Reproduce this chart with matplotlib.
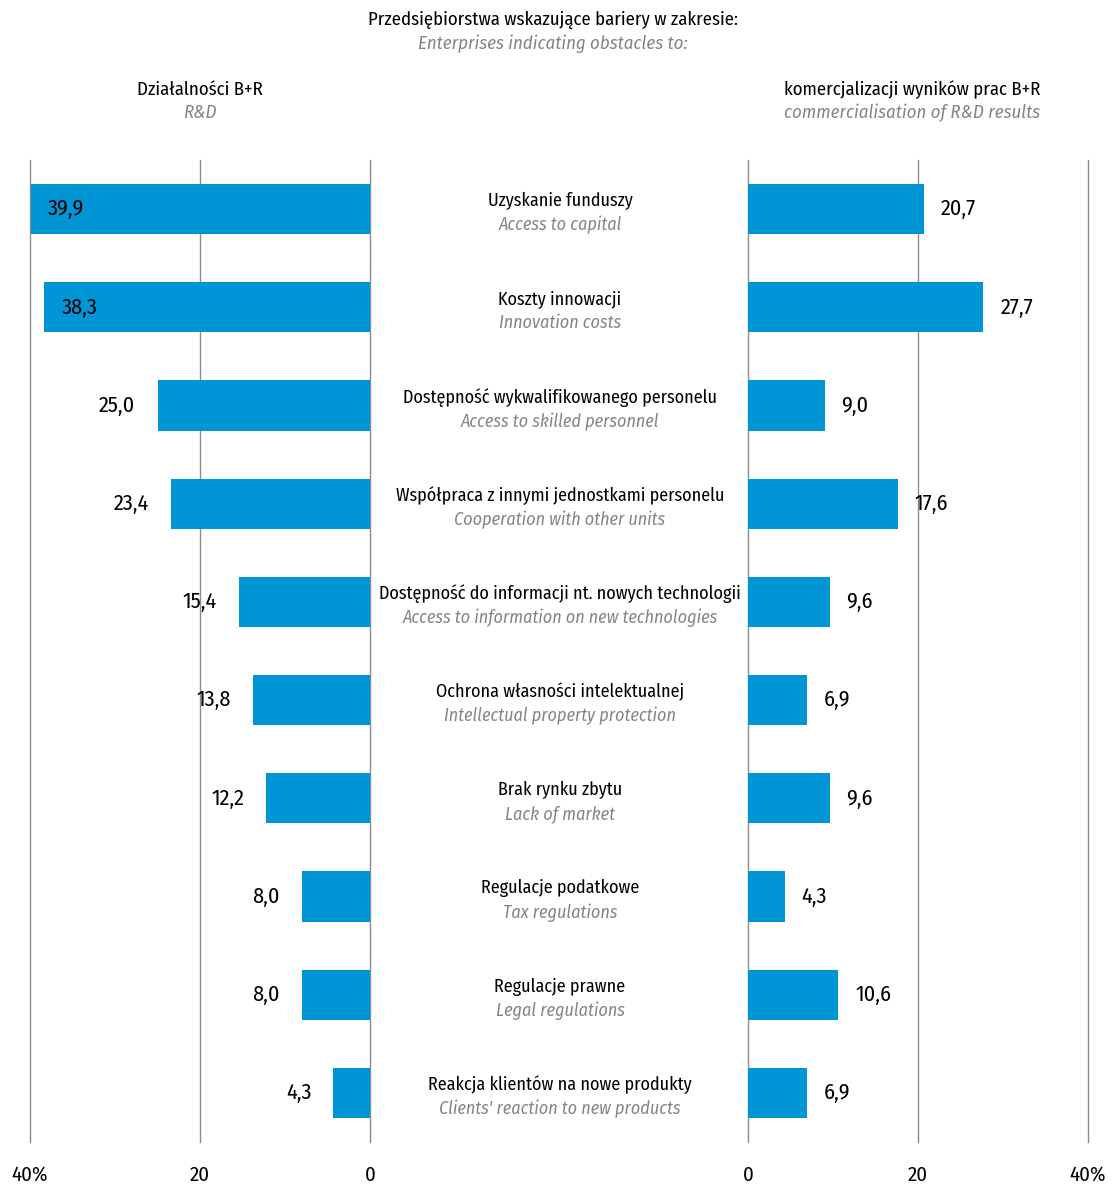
import matplotlib.pyplot as plt
from matplotlib import font_manager as fm

# pick a condensed humanist face (the original uses Myriad Pro Condensed)
_names = {f.name for f in fm.fontManager.ttflist}
FONT = next((n for n in ["Fira Sans Condensed", "Asap Condensed", "Roboto Condensed",
                         "Barlow Semi Condensed"] if n in _names), "DejaVu Sans")
plt.rcParams["font.family"] = [FONT, "DejaVu Sans"]

# categories (Polish / English)
cats_pl = [
    "Uzyskanie funduszy",
    "Koszty innowacji",
    "Dostępność wykwalifikowanego personelu",
    "Współpraca z innymi jednostkami personelu",
    "Dostępność do informacji nt. nowych technologii",
    "Ochrona własności intelektualnej",
    "Brak rynku zbytu",
    "Regulacje podatkowe",
    "Regulacje prawne",
    "Reakcja klientów na nowe produkty",
]
cats_en = [
    "Access to capital",
    "Innovation costs",
    "Access to skilled personnel",
    "Cooperation with other units",
    "Access to information on new technologies",
    "Intellectual property protection",
    "Lack of market",
    "Tax regulations",
    "Legal regulations",
    "Clients' reaction to new products",
]
rd_vals = [39.9, 38.3, 25.0, 23.4, 15.4, 13.8, 12.2, 8.0, 8.0, 4.3]
comm_vals = [20.7, 27.7, 9.0, 17.6, 9.6, 6.9, 9.6, 4.3, 10.6, 6.9]
ticks = [0, 20, 40]
left_ticklabels = ["0", "20", "40%"]
right_ticklabels = ["0", "20", "40%"]

BLUE = "#0096d6"
GRID = "#8c8c8c"
GREY_TXT = "#858585"
W, H = 1114, 1186
FS = 13.0       # category labels
FS_HEAD = 13.5  # headers
FS_VAL = 16.0   # value labels
FS_TICK = 15.0


def fx(px):
    return px / W


def fy(py):
    return 1 - py / H


def fmt(v):
    return f"{v:.1f}".replace(".", ",")


fig = plt.figure(figsize=(W / 100, H / 100), dpi=100)

ax_l = fig.add_axes([fx(30), fy(1142), 340 / W, 982 / H])
ax_r = fig.add_axes([fx(748), fy(1142), 340 / W, 982 / H])

ypos = list(range(len(cats_pl)))

for ax, vals, labels in ((ax_l, rd_vals, left_ticklabels), (ax_r, comm_vals, right_ticklabels)):
    ax.barh(ypos, vals, height=0.51, color=BLUE, zorder=2)
    for t in ticks:
        ax.axvline(t, color=GRID, lw=1.0, zorder=1, clip_on=False)
    ax.set_ylim(9.5, -0.5)
    ax.set_xticks(ticks)
    ax.set_xticklabels(labels, fontsize=FS_TICK)
    ax.tick_params(axis="x", length=0, pad=17)
    ax.set_yticks([])
    for s in ax.spines.values():
        s.set_visible(False)

ax_l.set_xlim(40, 0)
ax_r.set_xlim(0, 40)

# value labels
for i, v in enumerate(rd_vals):
    if v > 35:
        ax_l.text(v - 2.0, i, fmt(v), ha="left", va="center", fontsize=FS_VAL, zorder=3)
    else:
        ax_l.text(v + 2.6, i, fmt(v), ha="right", va="center", fontsize=FS_VAL, zorder=3)
for i, v in enumerate(comm_vals):
    ax_r.text(v + 2.0, i, fmt(v), ha="left", va="center", fontsize=FS_VAL, zorder=3)

# category labels in the middle
for i, (pl, en) in enumerate(zip(cats_pl, cats_en)):
    cy = 209 + i * 98.2
    fig.text(fx(560), fy(cy - 8), pl, ha="center", va="center", fontsize=FS)
    fig.text(fx(560), fy(cy + 16), en, ha="center", va="center", fontsize=FS,
             style="italic", color=GREY_TXT)

# headers
fig.text(fx(553), fy(20), "Przedsiębiorstwa wskazujące bariery w zakresie:",
         ha="center", va="center", fontsize=FS_HEAD)
fig.text(fx(553), fy(44), "Enterprises indicating obstacles to:",
         ha="center", va="center", fontsize=FS_HEAD, style="italic", color=GREY_TXT)
fig.text(fx(200), fy(90), "Działalności B+R", ha="center", va="center", fontsize=FS_HEAD)
fig.text(fx(200), fy(113), "R&D", ha="center", va="center", fontsize=FS_HEAD,
         style="italic", color=GREY_TXT)
fig.text(fx(912), fy(90), "komercjalizacji wyników prac B+R", ha="center",
         va="center", fontsize=FS_HEAD)
fig.text(fx(912), fy(113), "commercialisation of R&D results", ha="center",
         va="center", fontsize=FS_HEAD, style="italic", color=GREY_TXT)

fig.savefig("out.png", dpi=100)
